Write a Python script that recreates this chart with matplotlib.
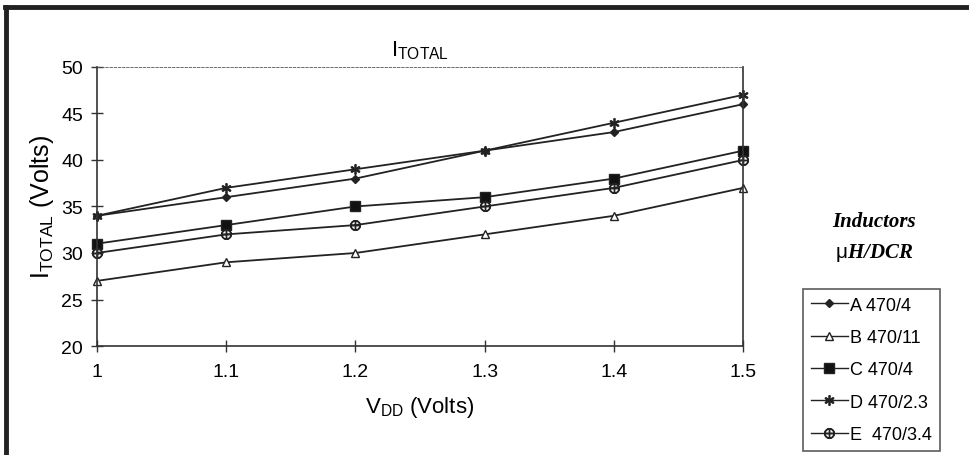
import numpy as np
import matplotlib
matplotlib.use('Agg')
import matplotlib.pyplot as plt
from matplotlib.lines import Line2D

plt.rcParams['font.family'] = 'Liberation Sans'
plt.rcParams['mathtext.fontset'] = 'custom'
plt.rcParams['mathtext.rm'] = 'Liberation Sans'
plt.rcParams['mathtext.it'] = 'Liberation Sans:italic'

vdd = [1.0, 1.1, 1.2, 1.3, 1.4, 1.5]
labels = ['A 470/4', 'B 470/11', 'C 470/4', 'D 470/2.3', 'E  470/3.4']
a_vals = [34, 36, 38, 41, 43, 46]
b_vals = [27, 29, 30, 32, 34, 37]
c_vals = [31, 33, 35, 36, 38, 41]
d_vals = [34, 37, 39, 41, 44, 47]
e_vals = [30, 32, 33, 35, 37, 40]

series = [a_vals, b_vals, c_vals, d_vals, e_vals]
markers = ['D', '^', 's', r'$\ast$', r'$\oplus$']
fills = ['#222222', 'white', '#111111', '#222222', 'white']
sizes = [4.5, 6, 6.5, 7, 7]

fig = plt.figure(figsize=(9.69, 4.56), dpi=100)
ax = fig.add_axes([0.100, 0.239, 0.667, 0.612])

for vals, m, fc, ms in zip(series, markers, fills, sizes):
    ax.plot(vdd, vals, color='#222222', lw=1.3, marker=m, ms=ms,
            mfc=fc, mec='#222222', mew=1.0, clip_on=False)

ax.set_xlim(1.0, 1.5)
ax.set_ylim(20, 50)
ax.set_xticks(vdd)
ax.set_xticklabels(['1', '1.1', '1.2', '1.3', '1.4', '1.5'])
ax.set_yticks(range(20, 51, 5))
ax.tick_params(axis='both', labelsize=14, direction='inout', length=8, width=1, color='#333333')
ax.tick_params(axis='y', pad=6)
ax.tick_params(axis='x', pad=8)
for s in ['left', 'bottom', 'right']:
    ax.spines[s].set_color('#333333')
    ax.spines[s].set_linewidth(1.2)
ax.spines['top'].set_linestyle((0, (3, 2)))
ax.spines['top'].set_linewidth(0.6)
ax.spines['top'].set_color('#555555')

ax.set_title(r'I$_{\mathrm{TOTAL}}$', fontsize=16, pad=8)
ax.set_xlabel(r'V$_{\mathrm{DD}}$ (Volts)', fontsize=16, labelpad=10)
ax.set_ylabel(r'I$_{\mathrm{TOTAL}}$ (Volts)', fontsize=18, labelpad=4)

# legend
handles = [Line2D([0], [0], color='#222222', lw=1, marker=m, ms=ms, mfc=fc,
                  mec='#222222') for m, fc, ms in zip(markers, fills, sizes)]
leg = fig.legend(handles, labels, loc='upper left', bbox_to_anchor=(0.829, 0.365),
                 frameon=True, fancybox=False, edgecolor='#333333', fontsize=13,
                 handlelength=2.0, handletextpad=0.15, labelspacing=0.85,
                 borderpad=0.45, borderaxespad=0)
leg.get_frame().set_linewidth(1.2)

fig.text(0.902, 0.513, 'Inductors', fontsize=15, family='Liberation Serif',
         weight='bold', style='italic', ha='center', va='center')
fig.text(0.902, 0.445, r'$\mathrm{\mu}$' + 'H/DCR', fontsize=15, family='Liberation Serif',
         weight='bold', style='italic', ha='center', va='center')

# outer frame (top and left)
fig.add_artist(Line2D([0.005, 1.0], [0.982, 0.982], color='#222222', lw=3.5,
                      transform=fig.transFigure))
fig.add_artist(Line2D([0.006, 0.006], [0.0, 0.982], color='#222222', lw=3.5,
                      transform=fig.transFigure))

fig.savefig('out.png', dpi=100)
